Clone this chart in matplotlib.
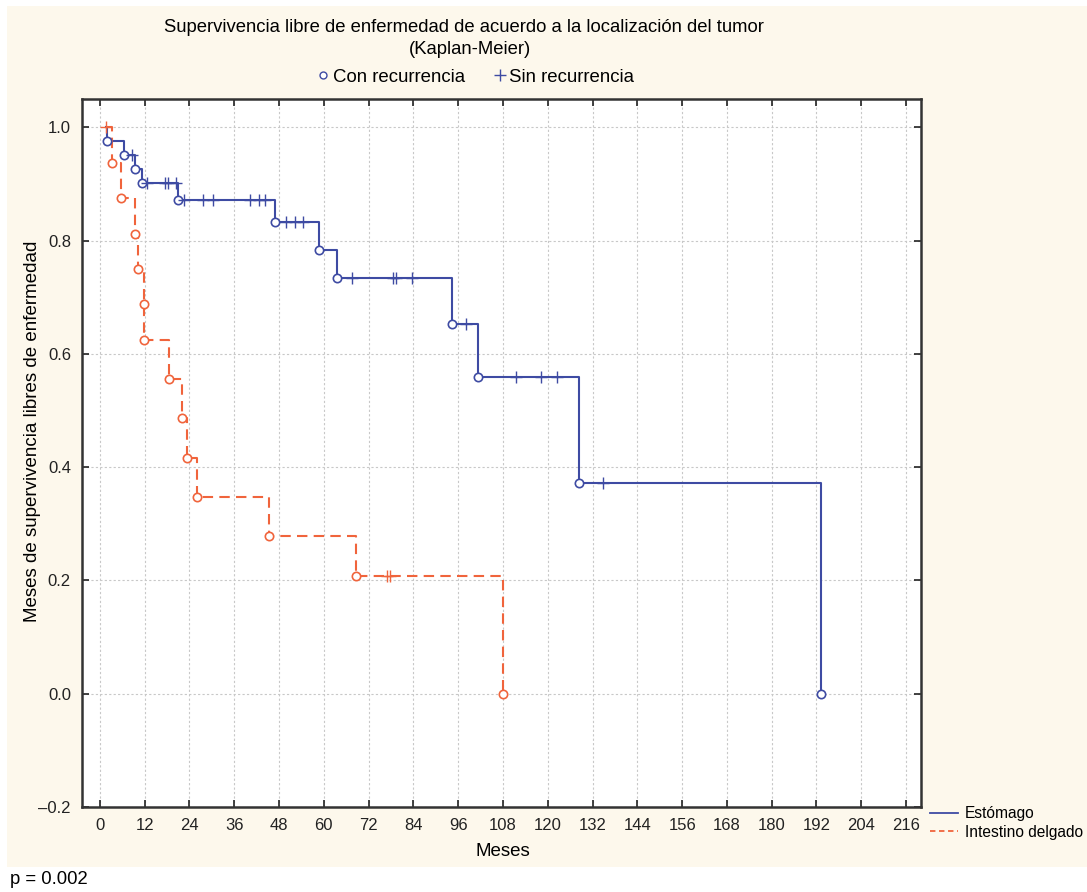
import matplotlib
matplotlib.use("Agg")
import matplotlib.pyplot as plt
from matplotlib.lines import Line2D
from matplotlib.patches import Rectangle

plt.rcParams['font.family'] = ['Liberation Sans', 'DejaVu Sans']

# ---------------- data ----------------
# Estómago (stomach): step curve (time, survival) and censored observations
stom_times = [1.5, 1.8, 6.5, 9.4, 11.3, 21.0, 47.0, 58.8, 63.6, 94.3, 101.4, 128.4, 193.2]
stom_surv = [1.0, 0.976, 0.952, 0.927, 0.902, 0.872, 0.833, 0.784, 0.734, 0.653, 0.560, 0.372, 0.0]
stom_cens_t = [8.7, 12.5, 17.4, 18.3, 20.4, 22.5, 27.5, 30.4, 40.2, 42.5, 44.2,
               49.8, 52.3, 54.5, 67.6, 78.6, 79.2, 83.5, 98.1, 111.5, 118.3, 122.4, 134.9]
stom_cens_s = [0.952, 0.902, 0.902, 0.902, 0.902, 0.872, 0.872, 0.872, 0.872, 0.872, 0.872,
               0.833, 0.833, 0.833, 0.734, 0.734, 0.734, 0.734, 0.653, 0.560, 0.560, 0.560, 0.372]

# Intestino delgado (small intestine)
int_times = [1.5, 3.3, 5.7, 9.4, 10.1, 11.8, 11.8, 18.6, 21.9, 23.4, 25.9, 45.4, 68.5, 108.1]
int_surv = [1.0, 0.9375, 0.875, 0.8125, 0.75, 0.6875, 0.625, 0.556, 0.486, 0.417, 0.347, 0.278, 0.208, 0.0]
int_cens_t = [1.5, 76.8, 77.6]
int_cens_s = [1.0, 0.208, 0.208]

x_ticks = list(range(0, 217, 12))
y_ticks = [-0.2, 0.0, 0.2, 0.4, 0.6, 0.8, 1.0]
y_tick_labels = ['\u20130.2', '0.0', '0.2', '0.4', '0.6', '0.8', '1.0']

# ---------------- figure ----------------
W, H = 1087, 892
fig = plt.figure(figsize=(W / 100, H / 100), dpi=100, facecolor='white')
cream = '#FDF8EC'
fig.add_artist(Rectangle((7 / W, 1 - 867 / H), 1 - 7 / W, (867 - 6) / H,
                         transform=fig.transFigure, facecolor=cream,
                         edgecolor='none', zorder=-10))

ax = fig.add_axes([82 / W, 1 - 807 / H, (921 - 82) / W, (807 - 99) / H])
ax.set_facecolor('white')

blue = '#3E4BA3'
red = '#F0643C'

ax.plot(stom_times, stom_surv, drawstyle='steps-post', color=blue, lw=1.5, zorder=3)
ax.plot(stom_times[1:], stom_surv[1:], 'o', ms=6, mfc='white', mec=blue, mew=1.2, zorder=4)
ax.plot(stom_cens_t, stom_cens_s, '+', ms=8, color=blue, mew=1.0, zorder=4)

ax.plot(int_times, int_surv, drawstyle='steps-post', color=red, lw=1.5,
        linestyle=(0, (5, 3)), zorder=3)
ax.plot(int_times[1:], int_surv[1:], 'o', ms=6, mfc='white', mec=red, mew=1.2, zorder=4)
ax.plot(int_cens_t, int_cens_s, '+', ms=8, color=red, mew=1.0, zorder=4)

ax.set_xlim(-4.8, 220)
ax.set_ylim(-0.2, 1.05)
ax.set_xticks(x_ticks)
ax.set_yticks(y_ticks)
ax.set_yticklabels(y_tick_labels)
ax.grid(True, color='#C8C8C8', linestyle=(0, (2, 2)), lw=0.8)
ax.set_axisbelow(True)
ax.tick_params(direction='in', length=5, width=1.2, top=True, right=True,
               labelsize=12, pad=8, colors='#222222')
for s in ax.spines.values():
    s.set_color('#333333')
    s.set_linewidth(1.8)

# titles and labels
fig.text(464 / W, 1 - 28 / H, 'Supervivencia libre de enfermedad de acuerdo a la localización del tumor',
         ha='center', va='center', fontsize=13.3)
fig.text(470 / W, 1 - 50 / H, '(Kaplan-Meier)', ha='center', va='center', fontsize=13.3)
fig.text(33 / W, 1 - 431 / H, 'Meses de supervivencia libres de enfermedad', rotation=90,
         ha='center', va='center', fontsize=13.5)
fig.text(503 / W, 1 - 852 / H, 'Meses', ha='center', va='center', fontsize=13.5)
fig.text(10 / W, 1 - 880 / H, 'p = 0.002', ha='left', va='center', fontsize=13.3)

# top marker legend
top_handles = [Line2D([], [], marker='o', ls='none', ms=5, mfc='white', mec=blue, mew=1.0),
               Line2D([], [], marker='+', ls='none', ms=8, color=blue, mew=1.0)]
fig.legend(top_handles, ['Con recurrencia', 'Sin recurrencia'], loc='center',
           bbox_to_anchor=(476 / W, 1 - 77 / H), ncol=2, frameon=False, fontsize=13.4,
           handlelength=0.6, handletextpad=0.2, columnspacing=1.6)

# series legend
ser_handles = [Line2D([], [], color=blue, lw=1.3),
               Line2D([], [], color=red, lw=1.3, linestyle=(0, (3, 2)))]
fig.legend(ser_handles, ['Estómago', 'Intestino delgado'], loc='upper left',
           bbox_to_anchor=(930 / W, 1 - 806 / H), frameon=False, fontsize=11.2,
           handlelength=1.8, handletextpad=0.45, labelspacing=0.25, borderpad=0.0,
           borderaxespad=0.0)

fig.savefig('out.png', dpi=100, facecolor=fig.get_facecolor())
